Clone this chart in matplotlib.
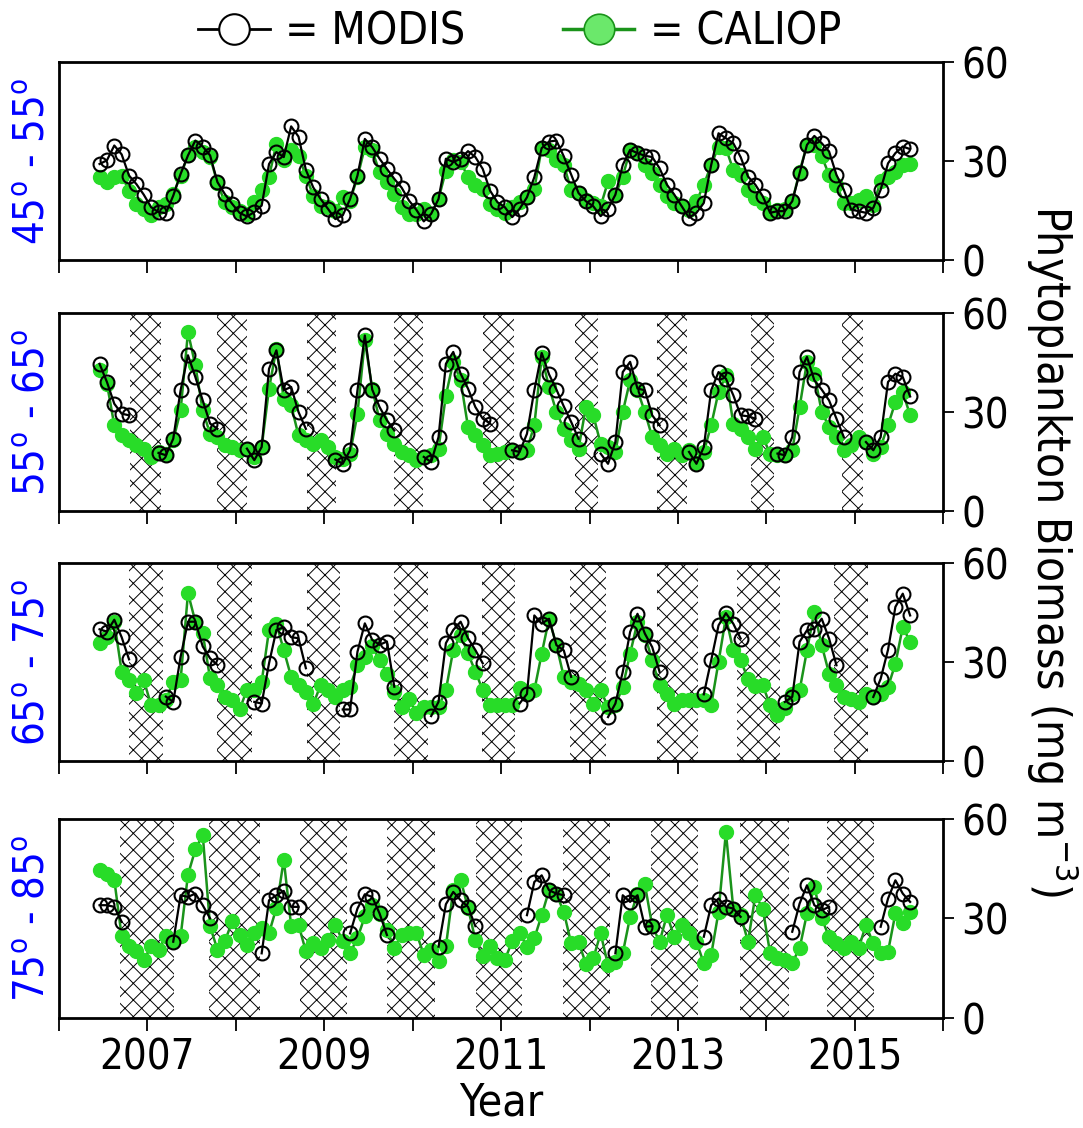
import numpy as np
import pandas as pd
import matplotlib
matplotlib.use("Agg")
import matplotlib.pyplot as plt
from matplotlib.lines import Line2D

plt.rcParams["font.family"] = ["DejaVu Sans"]
plt.rcParams["font.stretch"] = "condensed"
plt.rcParams["mathtext.fontset"] = "dejavusans"
plt.rcParams["hatch.linewidth"] = 0.7
plt.rcParams["hatch.color"] = "black"

# Monthly time axis, Jun 2006 - Aug 2015, plotted at mid-month in decimal years
months = pd.date_range("2006-06-01", "2015-08-01", freq="MS")
t = np.asarray(months.year + (months.month - 0.5) / 12.0)

nan = np.nan

# ---- 45-55 N ----
modis_45_55 = [
    29.1, 30.2, 34.7, 32.0, 25.6, 23.0, 19.8,
    16.0, 14.5, 14.2, 19.5, 26.1, 31.7, 36.2, 34.4, 31.7, 23.6, 20.0, 17.0,
    14.3, 13.2, 14.5, 16.5, 29.1, 32.7, 31.2, 40.5, 37.4, 27.3, 22.0, 18.5,
    15.5, 12.4, 13.5, 18.5, 25.6, 36.7, 34.2, 30.7, 27.6, 24.6, 21.9, 18.0,
    15.2, 11.7, 14.0, 18.5, 30.7, 29.7, 30.7, 33.0, 31.2, 27.6, 21.0, 17.5,
    16.0, 13.0, 15.5, 19.0, 25.1, 33.9, 35.9, 36.2, 31.4, 25.9, 20.3, 17.8,
    16.3, 13.3, 15.5, 19.8, 28.8, 33.4, 32.4, 31.6, 31.2, 27.8, 22.8, 19.8,
    16.3, 12.8, 14.3, 17.3, 28.8, 38.4, 36.9, 35.4, 31.2, 25.3, 22.8, 19.3,
    14.3, 14.8, 14.8, 17.8, 26.3, 34.9, 37.6, 35.4, 32.9, 25.8, 21.3, 15.3,
    14.8, 14.3, 15.8, 21.3, 29.3, 32.4, 34.4, 33.6,
]
caliop_45_55 = [
    25.1, 23.6, 25.3, 25.6, 21.0, 17.0, 15.5,
    13.5, 16.0, 17.0, 20.0, 25.6, 31.7, 34.2, 32.7, 31.2, 23.3, 17.5, 16.0,
    15.0, 14.0, 17.5, 21.3, 25.3, 35.2, 30.2, 33.4, 31.4, 25.6, 19.5, 16.5,
    16.0, 15.0, 19.0, 18.0, 25.1, 34.2, 33.2, 26.6, 23.6, 20.0, 16.0, 14.0,
    14.0, 15.5, 14.0, 18.5, 27.1, 30.2, 29.7, 25.1, 22.6, 21.6, 17.0, 15.5,
    14.2, 16.0, 17.5, 19.0, 21.6, 33.9, 33.4, 30.4, 28.8, 21.3, 20.3, 18.3,
    17.3, 16.3, 23.8, 19.8, 25.3, 33.4, 32.4, 28.8, 26.3, 22.8, 19.3, 17.3,
    16.3, 15.3, 17.8, 22.8, 28.8, 34.4, 33.9, 27.3, 25.8, 21.3, 18.8, 17.3,
    14.5, 15.3, 15.5, 17.8, 26.8, 34.9, 34.9, 31.4, 25.8, 22.8, 17.3, 17.3,
    18.3, 19.3, 16.8, 23.8, 25.3, 26.8, 28.8, 29.1,
]

# ---- 55-65 N ----
modis_55_65 = [
    44.6, 39.1, 32.5, 29.5, 29.0, nan, nan,
    nan, 17.6, 16.9, 21.9, 36.6, 47.2, 40.6, 33.5, 26.5, 24.9, nan, nan,
    nan, 18.9, 15.4, 19.4, 43.1, 48.7, 36.6, 37.6, 30.0, 24.9, nan, nan,
    nan, 15.6, 14.3, 18.4, 36.6, 53.2, 36.8, 31.5, 27.5, 24.4, nan, nan,
    nan, 16.4, 14.8, 22.4, 44.6, 48.2, 41.6, 37.1, 31.5, 28.0, 26.5, nan,
    nan, 18.4, 17.9, 23.4, 36.6, 47.9, 41.4, 36.8, 31.7, 27.0, 21.9, nan,
    nan, 17.4, 14.3, 20.9, 42.1, 45.2, 37.1, 36.6, 29.0, 26.0, nan, nan,
    nan, 17.9, 14.3, 19.4, 36.6, 42.1, 40.1, 35.1, 29.0, 28.7, 28.0, nan,
    nan, 17.4, 16.9, 22.4, 42.1, 46.7, 39.6, 36.8, 33.5, 28.0, 22.4, nan,
    nan, 20.9, 18.4, 22.4, 39.1, 41.6, 40.6, 34.7,
]
caliop_55_65 = [
    42.6, 38.6, 26.0, 22.9, 21.4, 19.9, 18.9,
    16.4, 17.9, 17.4, 21.4, 30.5, 54.2, 44.1, 30.5, 23.4, 22.4, 19.9, 19.4,
    18.4, 18.9, 16.4, 19.4, 37.1, 49.2, 34.0, 32.0, 22.9, 21.4, 20.4, 21.4,
    19.4, 16.4, 15.9, 17.4, 29.5, 51.7, 37.1, 27.5, 23.4, 20.4, 17.9, 16.9,
    15.4, 16.4, 16.9, 18.9, 35.0, 45.2, 39.6, 25.5, 22.9, 19.9, 16.9, 17.4,
    17.9, 18.4, 17.9, 18.5, 26.0, 46.7, 37.6, 30.0, 24.9, 21.4, 18.9, 31.5,
    29.0, 20.4, 19.4, 17.9, 30.0, 39.6, 36.6, 30.0, 22.4, 19.9, 17.4, 18.9,
    16.9, 18.4, 14.5, 17.9, 26.0, 36.1, 41.1, 26.5, 24.9, 22.4, 18.9, 22.4,
    17.4, 16.9, 16.9, 18.4, 31.5, 45.2, 41.6, 30.0, 25.5, 22.4, 18.4, 19.9,
    22.4, 20.9, 17.4, 19.4, 26.0, 33.0, 36.1, 29.0,
]

# ---- 65-75 N ----
modis_65_75 = [
    39.9, 39.2, 42.8, 37.5, 30.8, nan, nan,
    nan, nan, 19.5, 17.9, 31.6, 42.2, 42.2, 34.7, 31.1, 29.1, nan, nan,
    nan, nan, 17.9, 17.4, 29.6, 39.7, 40.5, 37.5, 37.2, 28.1, nan, nan,
    nan, nan, 15.6, 15.6, 33.1, 41.7, 36.7, 35.2, 36.2, 22.5, nan, nan,
    nan, nan, 13.6, 17.9, 35.7, 39.7, 42.2, 37.2, 33.6, 29.6, nan, nan,
    nan, nan, 17.4, 20.3, 44.1, 41.6, 43.1, 35.1, 33.5, 25.5, nan, nan,
    nan, nan, 13.3, 17.4, 27.0, 39.1, 44.6, 38.6, 34.5, 27.0, nan, nan,
    nan, nan, nan, 20.2, 30.5, 41.1, 44.8, 41.6, 37.1, nan, nan, nan,
    nan, nan, 17.9, 19.4, 36.1, 39.6, 40.1, 43.1, 37.1, 29.0, nan, nan,
    nan, nan, 19.4, 24.9, 33.7, 46.7, 50.7, 44.1,
]
caliop_65_75 = [
    35.7, 37.7, 42.2, 27.1, 24.5, 20.5, 24.5,
    16.9, 16.9, 18.5, 24.0, 24.5, 50.9, 42.2, 38.7, 25.0, 23.0, 19.5, 18.4,
    15.6, 21.5, 21.5, 24.0, 39.7, 41.5, 33.6, 25.5, 23.0, 21.0, 17.2, 23.0,
    21.5, 19.5, 21.5, 22.5, 29.1, 31.6, 34.7, 30.6, 26.5, 21.0, 16.4, 18.9,
    14.4, 16.2, 16.4, 16.4, 21.5, 33.6, 38.2, 32.6, 27.1, 21.5, 16.9, 16.9,
    16.9, 16.9, 22.0, 20.5, 21.4, 32.5, 43.1, 35.1, 25.5, 23.9, 23.4, 21.4,
    17.2, 21.4, 16.4, 16.9, 22.4, 32.5, 42.1, 38.1, 30.5, 22.9, 20.4, 17.4,
    18.4, 18.4, 18.4, 18.4, 16.9, 30.0, 43.6, 33.5, 30.5, 24.9, 22.6, 22.9,
    16.9, 13.8, 15.9, 20.4, 21.4, 33.5, 45.2, 35.1, 26.5, 22.9, 19.4, 18.9,
    17.9, 20.4, 19.4, 20.4, 22.4, 29.5, 40.6, 36.1,
]

# ---- 75-85 N ----
modis_75_85 = [
    34.0, 34.0, 33.5, 29.0, nan, nan, nan,
    nan, nan, nan, 23.0, 37.0, 36.5, 37.5, 34.0, 30.0, nan, nan, nan,
    nan, nan, nan, 19.5, 35.5, 37.0, 38.3, 33.5, 33.5, nan, nan, nan,
    nan, nan, nan, 25.5, 33.0, 37.3, 36.5, 31.5, 25.0, nan, nan, nan,
    nan, nan, nan, 21.5, 34.3, 38.0, 35.5, 33.5, 27.7, nan, nan, nan,
    nan, nan, nan, 31.0, 41.0, 43.0, 38.5, 37.5, 37.0, nan, nan, nan,
    nan, nan, nan, 19.5, 37.0, 35.0, 37.0, 27.5, 27.7, nan, nan, nan,
    nan, nan, nan, 24.5, 34.0, 36.0, 33.5, 33.0, 30.5, nan, nan, nan,
    nan, nan, nan, 26.0, 34.5, 40.0, 34.0, 32.5, 33.5, nan, nan, nan,
    nan, nan, nan, 27.5, 36.0, 41.5, 37.5, 35.0,
]
caliop_75_85 = [
    44.7, 43.5, 41.7, 24.6, 21.6, 20.1, 17.4,
    21.6, 20.6, 24.6, 23.1, 24.6, 43.2, 50.8, 55.3, 27.6, 20.6, 23.1, 29.1,
    25.1, 22.1, 25.6, 27.1, 25.6, 33.2, 47.7, 27.8, 28.1, 20.1, 22.6, 21.1,
    23.6, 28.1, 23.1, 19.6, 24.1, 30.6, 34.2, 31.2, 26.6, 21.1, 25.1, 25.6,
    25.6, 19.1, 20.6, 17.1, 21.6, 38.7, 41.7, 33.2, 23.6, 18.6, 21.6, 18.1,
    17.6, 23.1, 25.6, 21.5, 24.0, 31.0, 38.5, 37.3, 32.0, 22.5, 23.0, 16.3,
    18.0, 25.5, 16.0, 17.0, 19.5, 30.5, 37.5, 40.3, 27.7, 23.0, 31.0, 24.5,
    28.0, 25.5, 23.0, 16.5, 19.0, 32.0, 56.0, 33.0, 31.0, 23.0, 37.0, 33.0,
    19.5, 18.0, 17.5, 16.7, 21.0, 31.5, 39.5, 30.0, 24.5, 22.5, 21.0, 23.0,
    21.0, 28.0, 22.5, 19.5, 20.0, 31.5, 28.5, 32.0,
]

# Polar-night periods (decimal years) without MODIS coverage
dark_55_65 = [(2006.80, 2007.15), (2007.79, 2008.13), (2008.80, 2009.13),
              (2009.79, 2010.12), (2010.80, 2011.15), (2011.84, 2012.10),
              (2012.76, 2013.10), (2013.82, 2014.08), (2014.85, 2015.09)]
dark_65_75 = [(2006.79, 2007.18), (2007.79, 2008.18), (2008.80, 2009.18),
              (2009.79, 2010.17), (2010.78, 2011.16), (2011.78, 2012.18),
              (2012.76, 2013.23), (2013.67, 2014.15), (2014.76, 2015.15)]
dark_75_85 = [(2006.69, 2007.30), (2007.70, 2008.27), (2008.72, 2009.26),
              (2009.71, 2010.25), (2010.72, 2011.24), (2011.70, 2012.23),
              (2012.69, 2013.23), (2013.70, 2014.26), (2014.69, 2015.22)]

lat_labels = [("45", "55"), ("55", "65"), ("65", "75"), ("75", "85")]
modis_series = [modis_45_55, modis_55_65, modis_65_75, modis_75_85]
caliop_series = [caliop_45_55, caliop_55_65, caliop_65_75, caliop_75_85]
dark_periods = [[], dark_55_65, dark_65_75, dark_75_85]
year_ticks = list(range(2006, 2017))

GREEN_FACE = "#28dc28"
GREEN_LINE = "#1a931a"
FS = 30

fig = plt.figure(figsize=(10.83, 11.28), dpi=100)
left, width = 0.0545, 0.8165
rects = [(0.7695, 0.1755), (0.547, 0.1755), (0.3254, 0.1755), (0.0975, 0.1765)]

for i, (bottom, height) in enumerate(rects):
    ax = fig.add_axes([left, bottom, width, height])
    for x0, x1 in dark_periods[i]:
        ax.axvspan(x0, x1, facecolor="white", edgecolor="black",
                   hatch="xx", linewidth=0, zorder=1)
    ax.plot(t, caliop_series[i], color=GREEN_LINE, lw=1.8, marker="o",
            ms=10, mfc=GREEN_FACE, mec=GREEN_FACE, mew=1.0, zorder=3)
    ax.plot(t, modis_series[i], color="black", lw=1.6, marker="o",
            ms=10, mfc="none", mec="black", mew=1.5, zorder=4)

    ax.set_xlim(2006, 2016)
    ax.set_ylim(0, 60)
    ax.yaxis.tick_right()
    ax.set_yticks([0, 30, 60])
    ax.set_xticks(year_ticks)
    ax.tick_params(axis="y", direction="out", length=8, width=1.3,
                   labelsize=FS, pad=5)
    ax.tick_params(axis="x", direction="out", length=9, width=1.3,
                   labelsize=FS, pad=4)
    if i < 3:
        ax.set_xticklabels([])
    else:
        ax.set_xticklabels([str(y) if y % 2 else "" for y in year_ticks])
    for sp in ax.spines.values():
        sp.set_linewidth(2.0)

    lo, hi = lat_labels[i]
    fig.text(0.030, bottom + height / 2,
             lo + r"$^{\mathrm{o}}$ - " + hi + r"$^{\mathrm{o}}$",
             rotation=90, color="blue", fontsize=FS,
             ha="center", va="center")

fig.text(0.972, 0.512, r"Phytoplankton Biomass (mg m$^{-3}$)",
         rotation=-90, fontsize=33, ha="center", va="center")
fig.text(left + width / 2, 0.022, "Year", fontsize=FS + 2,
         ha="center", va="center")

handles = [
    Line2D([], [], color="black", lw=2, marker="o", ms=22, mfc="white",
           mec="black", mew=1.5),
    Line2D([], [], color=GREEN_LINE, lw=2.5, marker="o", ms=22,
           mfc="#6be86b", mec=GREEN_LINE, mew=1.2),
]
fig.legend(handles, ["= MODIS", "= CALIOP"], loc="center",
           bbox_to_anchor=(0.48, 0.972), ncol=2, frameon=False,
           fontsize=32, handlelength=1.6, handletextpad=0.35,
           columnspacing=2.2)

fig.savefig("out.png", dpi=100, facecolor="white")
